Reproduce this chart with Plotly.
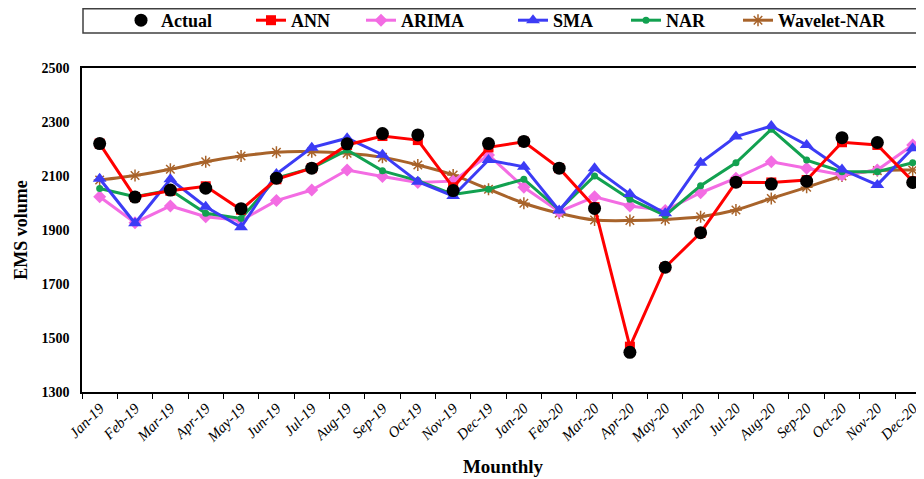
import plotly.graph_objects as go

months = ["Jan-19","Feb-19","Mar-19","Apr-19","May-19","Jun-19","Jul-19","Aug-19","Sep-19","Oct-19","Nov-19","Dec-19",
          "Jan-20","Feb-20","Mar-20","Apr-20","May-20","Jun-20","Jul-20","Aug-20","Sep-20","Oct-20","Nov-20","Dec-20"]

actual = [2220, 2022, 2048, 2055, 1979, 2092, 2129, 2219, 2257, 2252, 2046, 2220,
          2228, 2129, 1980, 1447, 1762, 1890, 2077, 2070, 2081, 2242, 2224, 2076]
ann = [2220, 2022, 2045, 2062, 1975, 2088, 2129, 2215, 2248, 2233, 2058, 2206,
       2227, 2129, 1985, 1468, 1762, 1890, 2077, 2076, 2085, 2225, 2215, 2081]
arima = [2023, 1927, 1989, 1949, 1935, 2009, 2048, 2122, 2098, 2076, 2081, 2178,
         2058, 1968, 2023, 1989, 1972, 2038, 2092, 2153, 2129, 2104, 2122, 2215]
sma = [2090, 1925, 2088, 1986, 1910, 2107, 2205, 2240, 2179, 2079, 2026, 2159,
       2134, 1972, 2129, 2033, 1962, 2149, 2246, 2285, 2215, 2124, 2067, 2203]
nar = [2054, 2023, 2048, 1962, 1943, 2092, 2129, 2196, 2119, 2083, 2032, 2051,
       2088, 1974, 2100, 2014, 1954, 2064, 2149, 2273, 2159, 2116, 2116, 2149]
wavelet = [2085, 2102, 2125, 2153, 2174, 2188, 2190, 2184, 2169, 2141, 2104, 2051,
           1999, 1962, 1937, 1935, 1939, 1949, 1974, 2017, 2058, 2100, 2120, 2122]

C_RED = "#FF0000"
C_PINK = "#F36CE3"
C_BLUE = "#3C3CF5"
C_GREEN = "#12A150"
C_BROWN = "#A8632A"

W, H = 916, 471
ML, MT, MB = 74, 60, 87
PW, PH = W - ML, H - MT - MB

fig = go.Figure()

fig.add_trace(go.Scatter(x=months, y=wavelet, name="Wavelet-NAR", mode="lines+markers",
                         line=dict(color=C_BROWN, width=3, shape="spline", smoothing=0.8),
                         marker=dict(symbol="asterisk-open", size=10, color=C_BROWN, line=dict(color=C_BROWN, width=1.5)),
                         legend="legend6"))
fig.add_trace(go.Scatter(x=months, y=arima, name="ARIMA", mode="lines+markers",
                         line=dict(color=C_PINK, width=3),
                         marker=dict(symbol="diamond", size=10, color=C_PINK), legend="legend3"))
fig.add_trace(go.Scatter(x=months, y=nar, name="NAR", mode="lines+markers",
                         line=dict(color=C_GREEN, width=3),
                         marker=dict(symbol="circle", size=7, color=C_GREEN), legend="legend5"))
fig.add_trace(go.Scatter(x=months, y=sma, name="SMA", mode="lines+markers",
                         line=dict(color=C_BLUE, width=3),
                         marker=dict(symbol="triangle-up", size=12, color=C_BLUE), legend="legend4"))
fig.add_trace(go.Scatter(x=months, y=ann, name="ANN", mode="lines+markers",
                         line=dict(color=C_RED, width=3),
                         marker=dict(symbol="square", size=10, color=C_RED), legend="legend2"))
fig.add_trace(go.Scatter(x=months, y=actual, name="Actual", mode="markers",
                         marker=dict(symbol="circle", size=13, color="black"), legend="legend"))

# legend frame (figure pixel coordinates converted to paper)
fig.add_shape(type="rect", xref="paper", yref="paper",
              x0=1 / PW, x1=1.02, y0=1 + (MT - 25) / PH, y1=1 + (MT - 0.8) / PH,
              line=dict(color="#404040", width=1.5), fillcolor="rgba(0,0,0,0)")

legend_font = dict(family="Liberation Serif", size=18, color="black", weight="bold")
# screen x positions where each legend entry starts (plot left edge is at screen x = 82)
legend_x_px = [121, 251, 361, 513, 626, 738]
legend_names = ["legend", "legend2", "legend3", "legend4", "legend5", "legend6"]
legend_layouts = {}
for nm, px in zip(legend_names, legend_x_px):
    legend_layouts[nm] = dict(orientation="h", x=(px - 82) / PW, xanchor="left",
                              y=1 + (MT - 12.5) / PH, yanchor="middle",
                              font=legend_font, bgcolor="rgba(0,0,0,0)", borderwidth=0,
                              itemwidth=30)

fig.update_layout(
    width=W, height=H,
    margin=dict(l=ML, r=0, t=MT, b=MB, autoexpand=False),
    paper_bgcolor="white", plot_bgcolor="white",
    font=dict(family="Liberation Serif", color="black"),
    showlegend=True,
    **legend_layouts,
    xaxis=dict(type="category", range=[-0.5, 23.32], tickson="boundaries",
               showline=True, linecolor="black", linewidth=1.5, mirror=True,
               ticks="outside", ticklen=5, tickcolor="black", tickwidth=1,
               tickangle=-45, showgrid=False, zeroline=False,
               tickfont=dict(family="Liberation Serif", size=15, style="italic", color="black"),
               title=dict(text="Mounthly", font=dict(family="Liberation Serif", size=19, weight="bold"), standoff=15)),
    yaxis=dict(range=[1300, 2500], dtick=200, tick0=1300,
               showline=True, linecolor="black", linewidth=1.5, mirror=False,
               ticks="", showgrid=False, zeroline=False, ticklabelstandoff=8,
               tickfont=dict(family="Liberation Serif", size=14, weight="bold", color="black"),
               title=dict(text="EMS volume", font=dict(family="Liberation Serif", size=18, weight="bold"), standoff=9)),
)

fig.write_html("out.html")
